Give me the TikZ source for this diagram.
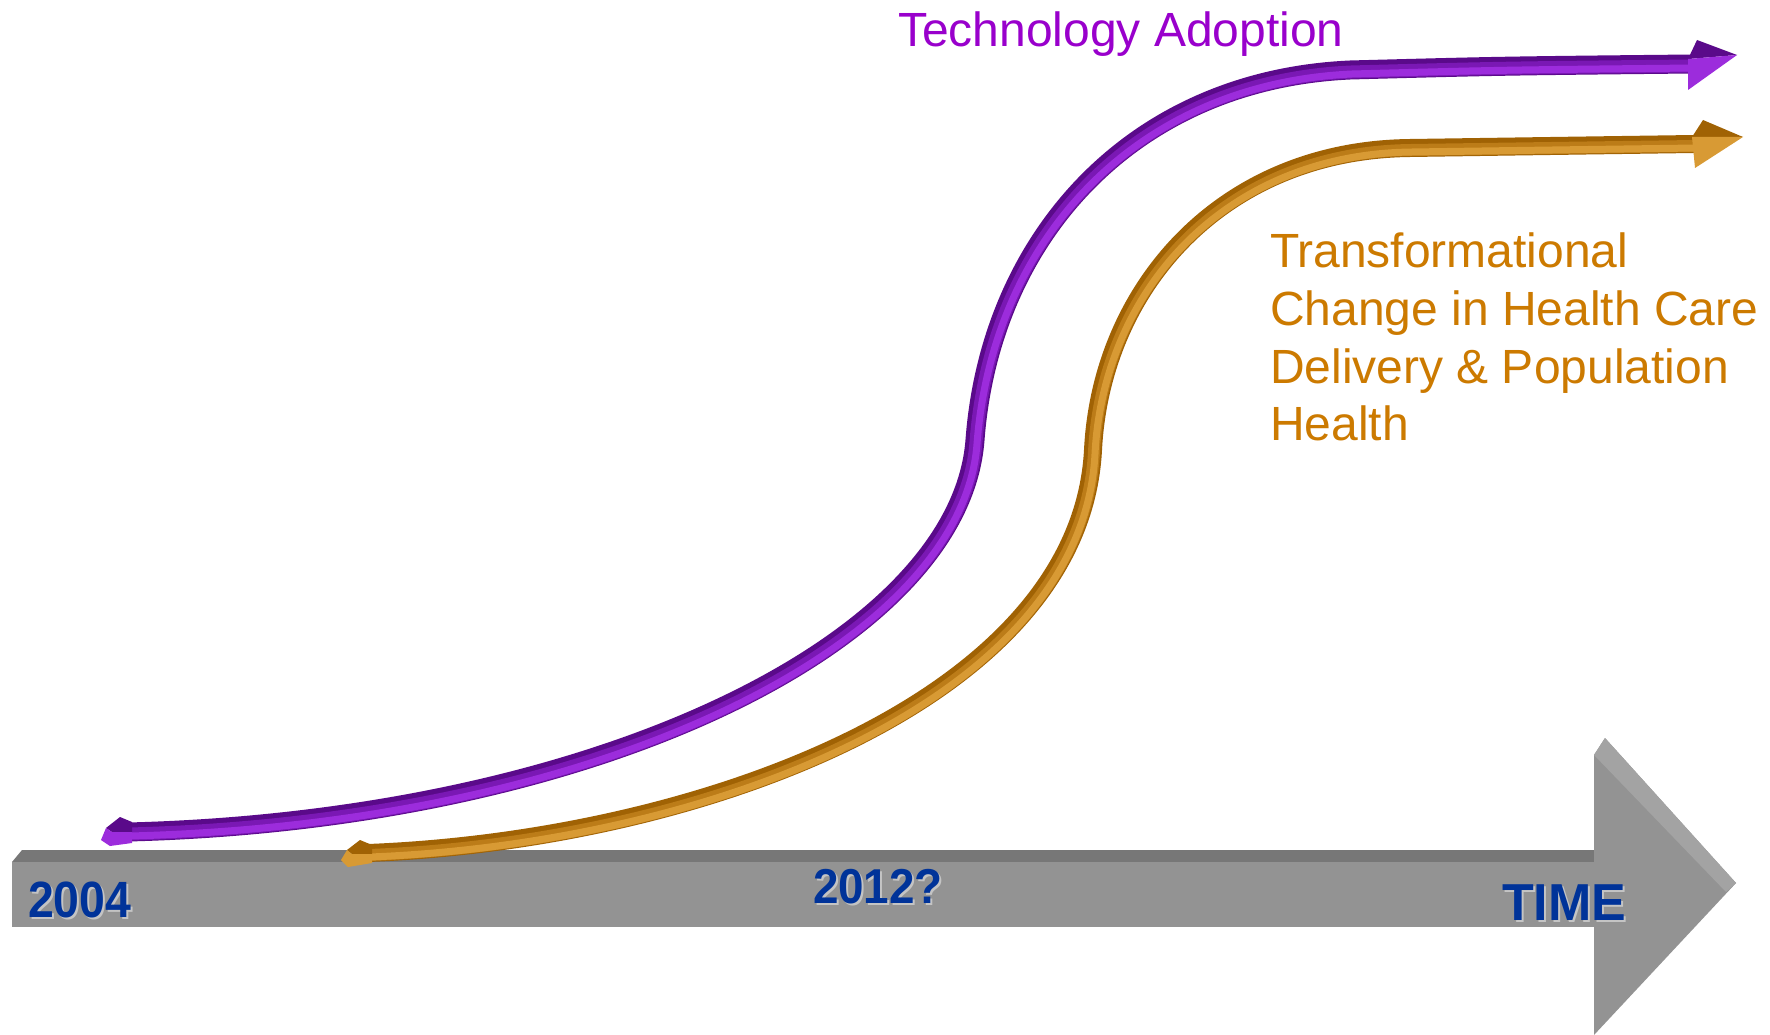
\documentclass[tikz,border=0pt]{standalone}
\usepackage{fontspec}
\setmainfont{Liberation Sans}
\definecolor{gfront}{HTML}{939393}
\definecolor{gtop}{HTML}{777777}
\definecolor{gbevel}{HTML}{A3A3A3}
\definecolor{tblue}{HTML}{003399}
\definecolor{tshadow}{HTML}{C4C4C4}
\definecolor{pdark}{HTML}{5A0A8A}
\definecolor{pmid}{HTML}{7A18B4}
\definecolor{plight}{HTML}{9C2CDC}
\definecolor{ptext}{HTML}{9900CC}
\definecolor{odark}{HTML}{A06204}
\definecolor{omid}{HTML}{BC7C18}
\definecolor{olight}{HTML}{D89A34}
\definecolor{otext}{HTML}{CC7A00}
\tikzset{
  barfront/.style={fill=gfront, draw=none},
  bartop/.style={fill=gtop, draw=none},
  barbevel/.style={fill=gbevel, draw=none},
  yeartext/.style={inner sep=0pt, outer sep=0pt, anchor=base west, text=tblue, font=\bfseries},
  yearshadow/.style={yeartext, text=tshadow},
  ptube/.style={draw=pdark, line width=19pt},
  ptubemid/.style={draw=pmid, line width=13pt},
  ptubehi/.style={draw=plight, line width=7pt},
  otube/.style={draw=odark, line width=18pt},
  otubemid/.style={draw=omid, line width=12pt},
  otubehi/.style={draw=olight, line width=7pt},
  labeltext/.style={inner sep=0pt, outer sep=0pt, anchor=base west, font=\fontsize{48}{58}\selectfont},
}
\newcommand\purplecurve{(128,832) .. controls (600,820) and (960,640) .. (975,440) .. controls (990,240) and (1130,80) .. (1350,70) .. controls (1500,66) .. (1692,64)}
\newcommand\orangecurve{(368,853) .. controls (700,840) and (1080,700) .. (1093,450) .. controls (1101,290) and (1220,150) .. (1410,148) .. controls (1550,146) .. (1694,144)}
\begin{document}
\begin{tikzpicture}[x=1pt, y=-1pt]
\useasboundingbox (0,0) rectangle (1770,1035);
\fill[white] (0,0) rectangle (1770,1035);
% time bar
\fill[bartop] (12,862) -- (22,850) -- (1594,850) -- (1594,862) -- cycle;
\fill[barfront] (12,862) rectangle (1594,927);
\fill[barfront] (1594,755) -- (1605,738) -- (1736,883) -- (1594,1035) -- cycle;
\fill[barbevel] (1594,755) -- (1605,738) -- (1736,883) -- (1726,892) -- cycle;
% labels on bar
\node[yearshadow] (s2004) at (30,919) {\fontsize{51}{51}\selectfont\scalebox{0.91}[1]{2004}};
\node[yeartext] (n2004) at (28,917) {\fontsize{51}{51}\selectfont\scalebox{0.91}[1]{2004}};
\node[yearshadow] (s2012) at (815,905) {\fontsize{49}{49}\selectfont\scalebox{0.935}[1]{2012?}};
\node[yeartext] (n2012) at (813,903) {\fontsize{49}{49}\selectfont\scalebox{0.935}[1]{2012?}};
\node[yearshadow] (stime) at (1504,922) {\fontsize{52}{52}\selectfont TIME};
\node[yeartext] (ntime) at (1502,920) {\fontsize{52}{52}\selectfont TIME};
% purple curve
\draw[ptube] \purplecurve;
\draw[ptubemid, shift={(1,2)}] \purplecurve;
\draw[ptubehi, shift={(2,4)}] \purplecurve;
\fill[pdark] (132,822) -- (120,817) -- (106,828) -- (112,832) -- (132,832) -- cycle;
\fill[plight] (106,828) -- (101,840) -- (110,846) -- (132,843) -- (132,832) -- (112,832) -- cycle;
\fill[pdark] (1688,59) -- (1697,40) -- (1737,55) -- cycle;
\fill[plight] (1688,59) -- (1737,55) -- (1688,90) -- cycle;
% orange curve
\draw[otube] \orangecurve;
\draw[otubemid, shift={(1,2)}] \orangecurve;
\draw[otubehi, shift={(2,4)}] \orangecurve;
\fill[odark] (372,845) -- (360,840) -- (347,850) -- (352,854) -- (372,854) -- cycle;
\fill[olight] (347,850) -- (341,860) -- (348,867) -- (372,863) -- (372,854) -- (352,854) -- cycle;
\fill[odark] (1692,137) -- (1703,120) -- (1743,137) -- cycle;
\fill[olight] (1692,137) -- (1743,137) -- (1695,168) -- cycle;
% text labels
\node[labeltext, text=ptext] (tech) at (898,47) {Technology Adoption};
\node[labeltext, text=otext] (tr1) at (1270,267) {Transformational};
\node[labeltext, text=otext] (tr2) at (1270,325) {Change in Health Care};
\node[labeltext, text=otext] (tr3) at (1270,383) {Delivery \& Population};
\node[labeltext, text=otext] (tr4) at (1270,440) {Health};
\end{tikzpicture}
\end{document}
